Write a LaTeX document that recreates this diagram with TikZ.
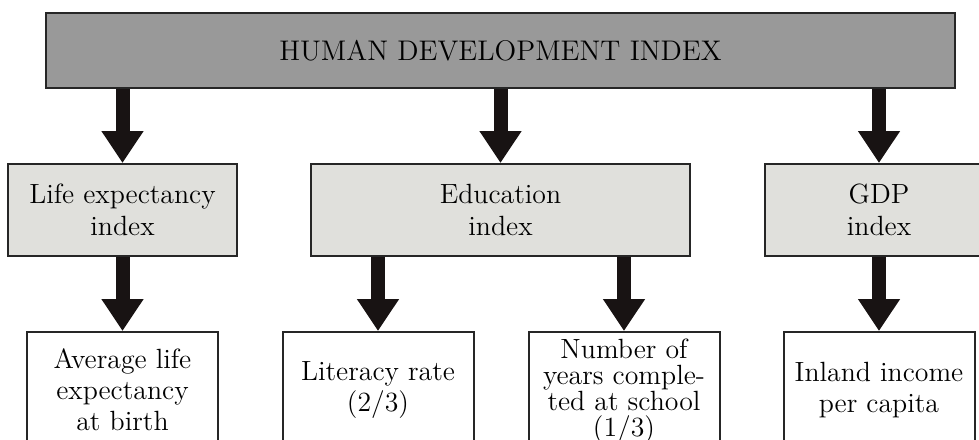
\documentclass[tikz,border=0pt]{standalone}
\usepackage{tikz}
\usetikzlibrary{positioning,arrows.meta}
\definecolor{hdigray}{HTML}{999999}
\definecolor{idxgray}{HTML}{E0E0DC}
\definecolor{arrowblack}{HTML}{181313}
\tikzset{
  hdibox/.style={rectangle, draw=black!85, line width=1pt, fill=hdigray, minimum width=454.5pt, minimum height=37.5pt, font=\fontsize{14.2}{16}\selectfont},
  idxbox/.style={rectangle, draw=black!85, line width=1pt, fill=idxgray, minimum height=46pt, align=center, font=\fontsize{13.9}{16}\selectfont},
  leafbox/.style={rectangle, draw=black!85, line width=1pt, fill=white, minimum width=95.5pt, minimum height=58pt, align=center, font=\fontsize{13.9}{15.5}\selectfont},
  bigarrow/.style={-{Triangle[length=16pt,width=20pt]}, line width=7pt, draw=arrowblack},
}

\begin{document}
\begin{tikzpicture}[x=0.5pt, y=-0.5pt]
\useasboundingbox (0,0) rectangle (979,439);
\clip (0,0) rectangle (979,439);
%Nodes
\node[hdibox] (hdi) at (500.5,50.5) {HUMAN DEVELOPMENT INDEX};
\node[idxbox, minimum width=114.5pt] (life) at (122.5,210) {Life expectancy\\index};
\node[idxbox, minimum width=189.5pt] (edu) at (500.5,210) {Education\\index};
\node[idxbox, minimum width=114pt] (gdp) at (879,210) {GDP\\index};
\node[leafbox] (birth) [below=37pt of life] {Average life\\expectancy\\at birth};
\node[leafbox] (literacy) [below=37pt of edu, xshift=-61.25pt] {Literacy rate\\(2/3)};
\node[leafbox, minimum height=55.5pt, font=\fontsize{13.9}{13}\selectfont] (school) [below=37pt of edu, xshift=61.75pt] {Number of\\years comple-\\ted at school\\(1/3)};
\node[leafbox] (income) [below=37pt of gdp] {Inland income\\per capita};

%Lines
\draw[bigarrow] (hdi.south -| life.north) -- (life.north);
\draw[bigarrow] (hdi.south -| edu.north) -- (edu.north);
\draw[bigarrow] (hdi.south -| gdp.north) -- (gdp.north);
\draw[bigarrow] (life.south) -- (birth.north);
\draw[bigarrow] (edu.south -| literacy.north) -- (literacy.north);
\draw[bigarrow] (edu.south -| school.north) -- (school.north);
\draw[bigarrow] (gdp.south) -- (income.north);
\end{tikzpicture}
\end{document}
